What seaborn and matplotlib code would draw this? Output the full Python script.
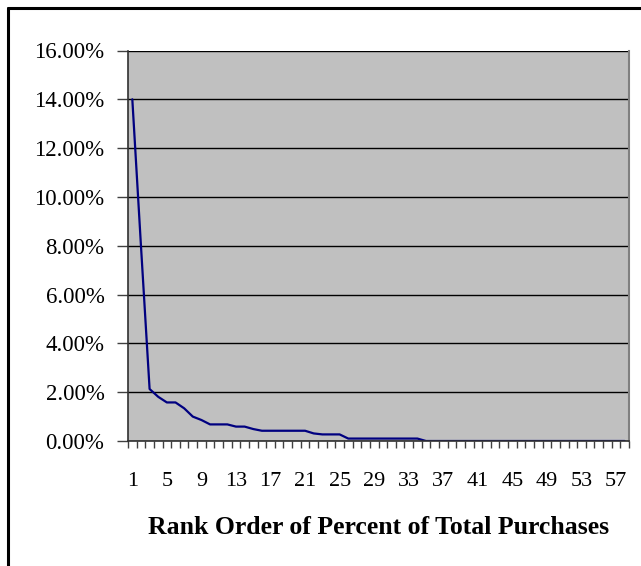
import pandas as pd
import seaborn as sns
import matplotlib.pyplot as plt
from matplotlib.lines import Line2D
from matplotlib.ticker import FixedLocator, FuncFormatter

# rank order and percent of total purchases
ranks = list(range(1, 59))
pct = [14.0, 8.0, 2.13, 1.81, 1.58, 1.58, 1.34, 1.0, 0.86, 0.68,
       0.68, 0.68, 0.59, 0.59, 0.49, 0.42, 0.42, 0.42, 0.42, 0.42,
       0.42, 0.31, 0.27, 0.27, 0.27, 0.10, 0.10, 0.10, 0.10, 0.10,
       0.10, 0.10, 0.10, 0.10, 0.0, 0.0, 0.0, 0.0, 0.0, 0.0,
       0.0, 0.0, 0.0, 0.0, 0.0, 0.0, 0.0, 0.0, 0.0, 0.0,
       0.0, 0.0, 0.0, 0.0, 0.0, 0.0, 0.0, 0.0]
x_labels = list(range(1, 59, 4))
y_ticks = [0, 2, 4, 6, 8, 10, 12, 14, 16]

df = pd.DataFrame({'rank': ranks, 'pct': pct})

sns.set_style('ticks')
plt.rcParams['font.family'] = ['Liberation Serif', 'DejaVu Serif']

fig = plt.figure(figsize=(6.41, 5.66), dpi=100)
ax = fig.add_axes([128/641, 1-441/566, (629-128)/641, (441-50.5)/566])
ax.set_facecolor('#C0C0C0')

sns.lineplot(data=df, x='rank', y='pct', color='#000080', lw=1.6, ax=ax)

# y axis
ax.set_ylim(0, 16)
ax.set_yticks(y_ticks)
ax.yaxis.set_major_formatter(FuncFormatter(lambda v, p: f'{v:.2f}%'))
ax.grid(axis='y', color='black', lw=1)
ax.tick_params(axis='y', length=8, width=1, color='#404040', pad=9,
               labelsize=16.5, labelcolor='black')

# x axis: category style, ticks between categories
ax.set_xlim(0.5, 58.5)
ax.set_xticks(x_labels)
ax.xaxis.set_minor_locator(FixedLocator([i + 0.5 for i in range(0, 59)]))
ax.tick_params(axis='x', which='major', length=0, pad=22, labelsize=16,
               labelcolor='black')
ax.tick_params(axis='x', which='minor', length=5, width=1, color='#404040')

ax.set_ylabel('')
ax.set_xlabel('Rank Order of Percent of Total Purchases', fontsize=18.5,
              fontweight='bold', color='black')
ax.xaxis.set_label_coords(0.5, -0.193)
ax.xaxis.label.set_va('top')

for s in ['left', 'bottom']:
    ax.spines[s].set_color('#303030')
    ax.spines[s].set_linewidth(1.2)
ax.spines['top'].set_visible(False)
ax.spines['right'].set_color('#808080')
ax.spines['right'].set_linewidth(1.5)

# outer chart border (left and top only visible)
fig.add_artist(Line2D([8/641, 8/641], [0, 1-8/566], transform=fig.transFigure, color='black', lw=2.2))
fig.add_artist(Line2D([8/641, 1], [1-8/566, 1-8/566], transform=fig.transFigure, color='black', lw=2.2))

fig.savefig('out.png', dpi=100)
